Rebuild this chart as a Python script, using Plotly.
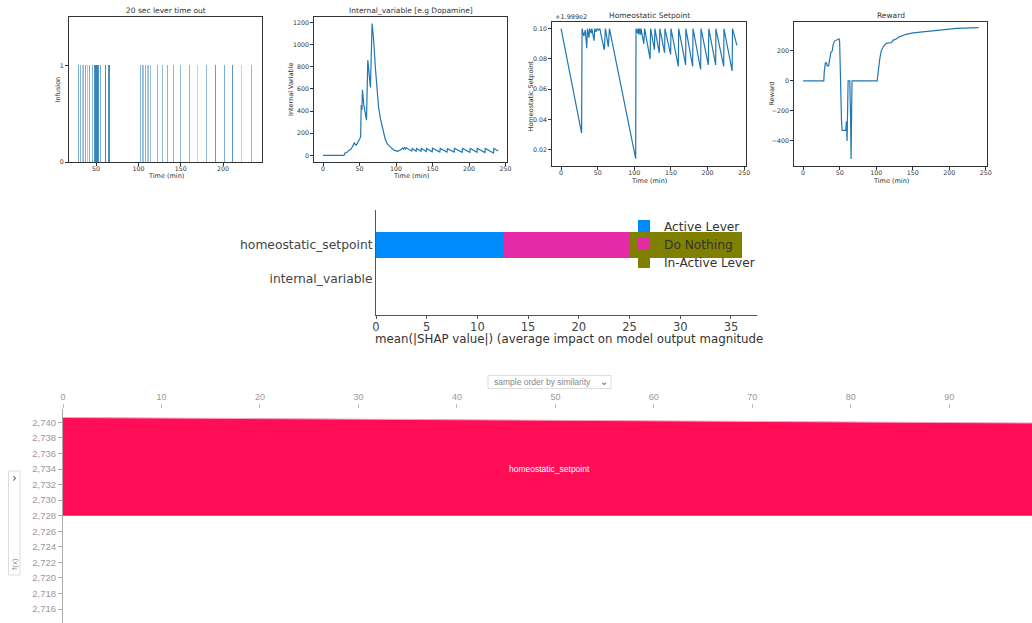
import plotly.graph_objects as go

W, H = 1032, 623
def px(x):
    return x / W
def py(y):
    return 1 - y / H

MPL = "DejaVu Sans"
ARIAL = "Liberation Sans"
BLUE = "#1f77b4"

# ---------------- Panel 1: 20 sec lever time out ----------------
lever_times = [29.2, 31.6, 33.9, 35.5, 37.1, 39.8, 42.5, 45.7, 48.0, 49.2, 50.4, 51.5,
               52.7, 55.0, 60.6, 64.8, 66.2, 102.8, 104.3, 105.5, 108.6, 111.3, 113.8,
               122.2, 128.0, 134.8, 141.8, 150.0, 160.5, 170.3, 180.1, 191.0, 201.6,
               211.3, 222.3, 234.0]
lever_alpha = [0.6, 0.55, 0.35, 0.5, 0.6, 0.35, 0.6, 0.55, 0.8, 0.9, 0.9, 0.9,
               0.8, 0.6, 0.85, 0.8, 0.85, 0.55, 0.5, 0.4, 0.55, 0.4, 0.45,
               0.5, 0.5, 0.55, 0.5, 0.5, 0.5, 0.3, 0.5, 0.7, 0.6,
               0.75, 0.3, 0.5]
infusion = [1] * len(lever_times)

# ---------------- Panel 2: Internal variable ----------------
dop_t = [0, 28.7, 30, 33, 35.5, 38, 40, 42, 43, 44, 45.5, 47, 48, 49.5, 50.5, 51.5, 52.3, 53.2,
         54, 55.8, 57.5, 59.5, 61.3, 63, 64.9, 67.2, 69.4, 71.7, 74, 76, 78.5, 81, 83, 85, 87.6,
         91, 94.4, 98, 102.2, 106, 108.6, 110, 111.3, 113, 114, 121.5, 122.2, 127.5, 128, 134.2,
         134.8, 141.3, 141.8, 149.5, 150, 160, 160.5, 169.8, 170.3, 179.6, 180.1, 190.5, 191,
         201.1, 201.6, 210.8, 211.3, 221.8, 222.3, 233.5, 234, 240]
dop_v = [0, 0, 22, 28, 45, 55, 76, 95, 115, 100, 91, 110, 121, 130, 152, 170, 456, 410,
         592, 456, 380, 319, 860, 730, 614, 1191, 1033, 790, 577, 440, 334, 250, 198, 150, 107,
         80, 61, 45, 36, 48, 66, 55, 70, 58, 68, 38, 62, 38, 62, 36,
         62, 35, 62, 33, 64, 30, 62, 30, 60, 29, 62, 27, 62,
         28, 62, 28, 62, 25, 62, 22, 62, 40]

# ---------------- Panel 3: Homeostatic setpoint (offset from 1.999e2) ----------------
hs_t = [0, 28, 28.6, 31, 33, 35, 36, 38, 39, 41, 42, 44, 45, 46, 48, 49, 51, 53, 54, 59, 60.5,
        64.5, 66, 101.8, 102.3, 104, 105, 106, 107, 108.5, 109, 113, 114, 121.5, 122.2, 127.5,
        128, 134, 134.8, 141.3, 141.8, 149.5, 150, 160, 160.5, 170, 170.3, 179.6, 180.1, 190.5,
        191, 201, 201.6, 211, 211.3, 222, 222.3, 233.5, 234, 240]
hs_v = [0.100, 0.031, 0.100, 0.095, 0.099, 0.087, 0.100, 0.094, 0.100, 0.097, 0.100, 0.096,
        0.092, 0.100, 0.098, 0.100, 0.099, 0.100, 0.097, 0.086, 0.100,
        0.088, 0.100, 0.014, 0.100, 0.097, 0.100, 0.096, 0.100, 0.096, 0.100, 0.090, 0.100,
        0.080, 0.100, 0.086, 0.100, 0.084, 0.100, 0.084, 0.100, 0.083, 0.100, 0.075, 0.100,
        0.076, 0.100, 0.075, 0.100, 0.073, 0.100, 0.076, 0.100, 0.076, 0.100, 0.075, 0.100,
        0.072, 0.100, 0.089]
hs_offset_label = "+1.999e2"

# ---------------- Panel 4: Reward ----------------
rw_t = [0, 28.3, 29, 29.5, 30.5, 32, 33, 35, 36.5, 38, 40, 41, 43, 45, 48, 49.3, 50, 51.5,
        52.5, 53.4, 58.4, 59.3, 60.2, 61.6, 63.9, 65, 65.7, 66.3, 67, 101.3, 102.6, 104, 105,
        107, 110, 114, 121, 123, 128, 130, 141, 150.5, 160, 169, 187, 210, 240]
rw_v = [0, 0, 60, 80, 120, 120, 100, 100, 150, 190, 200, 240, 265, 270, 275, 280, 260, -200,
        -250, -330, -330, -270, -400, 0, 0, -250, -520, -250, 0, 0, 70, 100, 150,
        200, 230, 250, 255, 270, 280, 290, 310, 320, 325, 330, 340, 350, 355]

# ---------------- SHAP bar summary ----------------
features = ["internal_variable", "homeostatic_setpoint"]
shap_classes = ["Active Lever", "Do Nothing", "In-Active Lever"]
shap_values = {
    "Active Lever": [0.0, 12.6],
    "Do Nothing": [0.0, 12.4],
    "In-Active Lever": [0.0, 11.1],
}
shap_colors = ["#008bfb", "#e52aa8", "#808000"]

# ---------------- Force plot ----------------
force_samples = [0, 25, 50, 75, 100]
force_base = [2728.0, 2728.0, 2728.0, 2728.0, 2728.0]
force_top = [2740.62, 2740.45, 2740.27, 2740.09, 2739.90]
force_feature = "homeostatic_setpoint"

fig = go.Figure()

fig.add_trace(go.Bar(
    x=lever_times, y=infusion, width=1.3,
    marker=dict(color=[f"rgba(31,119,180,{a})" for a in lever_alpha], line=dict(width=0)),
    xaxis="x", yaxis="y", showlegend=False))

fig.add_trace(go.Scatter(x=dop_t, y=dop_v, mode="lines", line=dict(color=BLUE, width=1.2),
                         xaxis="x2", yaxis="y2", showlegend=False))
fig.add_trace(go.Scatter(x=hs_t, y=hs_v, mode="lines", line=dict(color=BLUE, width=1.2),
                         xaxis="x3", yaxis="y3", showlegend=False))
fig.add_trace(go.Scatter(x=rw_t, y=rw_v, mode="lines", line=dict(color=BLUE, width=1.2),
                         xaxis="x4", yaxis="y4", showlegend=False))

legend_ids = ["legend", "legend2", "legend3"]
for cls, col, lg in zip(shap_classes, shap_colors, legend_ids):
    fig.add_trace(go.Bar(
        y=[0, 1], x=shap_values[cls], orientation="h", width=0.74, name=cls, legend=lg,
        marker=dict(color=col, line=dict(width=0)), xaxis="x5", yaxis="y5", showlegend=True))

fig.add_trace(go.Scatter(x=force_samples, y=force_base, mode="lines", line=dict(width=0, color="#ff0d57"),
                         xaxis="x6", yaxis="y6", showlegend=False))
fig.add_trace(go.Scatter(x=force_samples, y=force_top, mode="lines", fill="tonexty",
                         fillcolor="#ff0d57", line=dict(width=1, color="#f3a6c0"),
                         xaxis="x6", yaxis="y6", showlegend=False))

def mpl_axis(**kw):
    d = dict(showgrid=False, zeroline=False, showline=True, mirror=True, linecolor="#333",
             linewidth=0.8, ticks="outside", ticklen=3, tickwidth=0.8, tickcolor="#333",
             tickfont=dict(size=6.3, color="#333", family=MPL))
    d.update(kw)
    return d

def mpl_x(**kw):
    return mpl_axis(ticklabelstandoff=-2, **kw)

top_y1 = [py(162), py(17)]
top_y2 = [py(165.7), py(22.3)]

def leg(yc):
    return dict(x=px(624), y=py(yc), xanchor="left", yanchor="middle", bgcolor="rgba(0,0,0,0)",
                font=dict(size=12.2, color="#333", family=MPL))

layout = dict(
    width=W, height=H, autosize=False, margin=dict(l=0, r=0, t=0, b=0),
    paper_bgcolor="white", plot_bgcolor="white", template="none",
    barmode="stack", font=dict(family=MPL, color="#333"),
    xaxis=mpl_x(domain=[px(69), px(262)], range=[18, 246], tickvals=[50, 100, 150, 200], anchor="y"),
    yaxis=mpl_axis(domain=top_y1, range=[0, 1.5], tickvals=[0, 1], anchor="x"),
    xaxis2=mpl_x(domain=[px(314.3), px(507)], range=[-12, 252], tickvals=[0, 50, 100, 150, 200, 250], anchor="y2"),
    yaxis2=mpl_axis(domain=top_y1, range=[-60, 1250], tickvals=[0, 200, 400, 600, 800, 1000, 1200], anchor="x2"),
    xaxis3=mpl_x(domain=[px(552.3), px(745.7)], range=[-12, 252], tickvals=[0, 50, 100, 150, 200, 250], anchor="y3"),
    yaxis3=mpl_axis(domain=top_y2, range=[0.0094, 0.1042], tickvals=[0.02, 0.04, 0.06, 0.08, 0.10],
                    tickformat=".2f", anchor="x3"),
    xaxis4=mpl_x(domain=[px(794.3), px(987.3)], range=[-12, 252], tickvals=[0, 50, 100, 150, 200, 250], anchor="y4"),
    yaxis4=mpl_axis(domain=top_y2, range=[-565, 390], tickvals=[-400, -200, 0, 200], anchor="x4"),
    xaxis5=dict(domain=[px(376), px(757)], range=[0, 37.57], tickvals=[0, 5, 10, 15, 20, 25, 30, 35],
                showgrid=False, zeroline=False, showline=True, mirror=False, linecolor="#555", linewidth=1,
                ticks="outside", ticklen=3, tickcolor="#555", anchor="y5", ticklabelstandoff=-2,
                tickfont=dict(size=11.5, color="#444", family=MPL)),
    yaxis5=dict(domain=[py(315), py(210)], range=[-1.06, 2.03], tickvals=[0, 1], ticktext=features,
                showgrid=False, zeroline=False, showline=True, mirror=False, linecolor="#555", linewidth=1,
                ticks="", anchor="x5", tickfont=dict(size=12.3, color="#444", family=MPL)),
    xaxis6=dict(domain=[px(63), 1], range=[0, 98.4], tick0=0, dtick=10, side="top", anchor="y6",
                showgrid=False, zeroline=False, showline=False, ticks="outside", ticklen=4,
                tickcolor="#bbb", tickfont=dict(size=9, color="#999", family=ARIAL)),
    yaxis6=dict(domain=[0, py(409)], range=[2714.21, 2741.71], tick0=2716, dtick=2, tickformat=",d",
                anchor="x6", showgrid=False, zeroline=False, showline=True, linecolor="#aaa", linewidth=1,
                ticks="outside", ticklen=4, tickcolor="#aaa",
                tickfont=dict(size=9.5, color="#999", family=ARIAL)),
    legend=leg(226), legend2=leg(244), legend3=leg(262),
)
fig.update_layout(**layout)

ann = []
def text(x, y, s, size, color="#333", family=MPL, xanchor="center", angle=0, xref="paper", yref="paper"):
    ann.append(dict(x=x, y=y, xref=xref, yref=yref, text=s, showarrow=False, xanchor=xanchor,
                    yanchor="middle", textangle=angle, font=dict(size=size, color=color, family=family)))

# top panel titles and axis labels
text(px(165.5), py(11), "20 sec lever time out", 7.5)
text(px(410.5), py(11), "Internal_variable [e.g Dopamine]", 7.5)
text(px(649), py(15), "Homeostatic Setpoint", 7.5)
text(px(890.5), py(15.5), "Reward", 7.5)
text(px(553), py(17.5), hs_offset_label, 6.5, xanchor="left")
for xc, yc in [(165.5, 176.5), (410.5, 176.5), (649, 180.5), (890.5, 180.5)]:
    text(px(xc), py(yc), "Time (min)", 6.5)
text(px(57.5), py(90), "Infusion", 6.5, angle=-90)
text(px(291), py(90), "Internal Variable", 6.5, angle=-90)
text(px(530.5), py(96), "Homeostatic Setpoint", 6.5, angle=-90)
text(px(771.5), py(94), "Reward", 6.5, angle=-90)

# SHAP x label
text(px(569), py(339), "mean(|SHAP value|) (average impact on model output magnitude", 11.8, color="#333")

# force plot label
text(49.4, 2734.0, force_feature, 8.5, color="white", family=ARIAL, xref="x6", yref="y6")

# dropdown
text(px(492), py(382), "sample order by similarity", 8.5, color="#888", family=ARIAL, xanchor="left")
text(px(603.5), py(381), "⌄", 10, color="#666", family=MPL)
# side toggle
text(px(14), py(478), "›", 12, color="#555", family=MPL)
text(px(14), py(564), "f(x)", 8, color="#999", family=ARIAL, angle=-90)

fig.update_layout(annotations=ann)

fig.update_layout(shapes=[
    dict(type="rect", xref="paper", yref="paper", x0=px(488), x1=px(611), y0=py(388.5), y1=py(375.5),
         line=dict(color="#ddd", width=1), fillcolor="rgba(0,0,0,0)"),
    dict(type="rect", xref="paper", yref="paper", x0=px(8.5), x1=px(20), y0=py(575), y1=py(471),
         line=dict(color="#ddd", width=1), fillcolor="rgba(0,0,0,0)"),
])

fig.write_html("out.html", config={"displayModeBar": False},
               post_script="document.body.style.margin='0';document.body.style.overflow='hidden';")
